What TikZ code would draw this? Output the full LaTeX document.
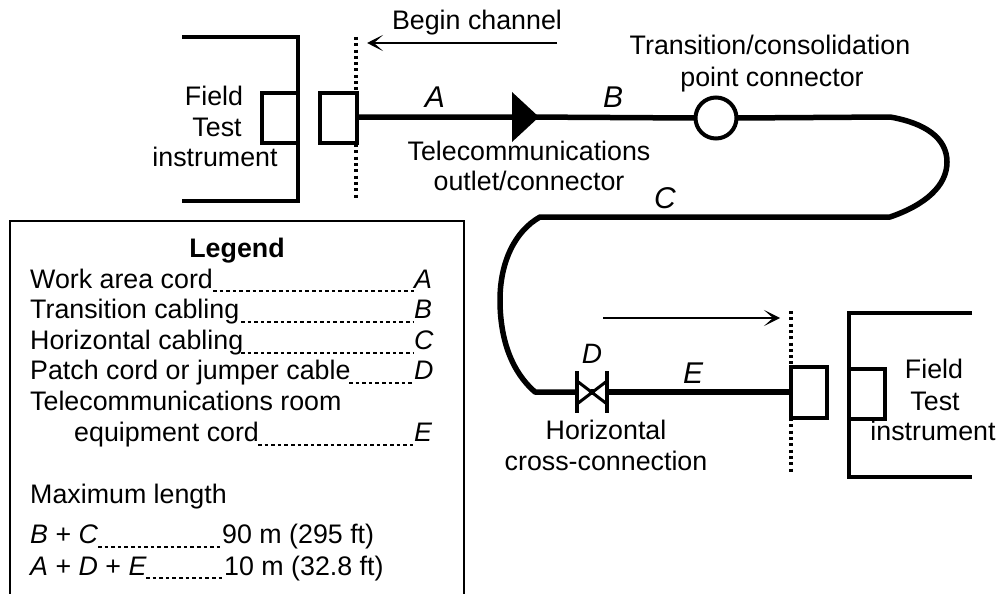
\documentclass[tikz,border=0pt]{standalone}
\usepackage{fontspec}
\usetikzlibrary{arrows.meta}
\setmainfont{Liberation Sans}
\begin{document}
\begin{tikzpicture}[x=1pt,y=-1pt,
  txt/.style={inner sep=0pt,anchor=base,font=\fontsize{26.8}{30}\selectfont},
  ltxt/.style={inner sep=0pt,anchor=base west,font=\fontsize{26.8}{30}\selectfont},
  litalic/.style={ltxt,font=\fontsize{26.8}{30}\selectfont\itshape},
  letter/.style={inner sep=0pt,anchor=base,font=\fontsize{30}{32}\selectfont\itshape},
  cable/.style={line width=5.5pt,line join=round},
  wall/.style={line width=4pt,line join=miter},
  plug/.style={draw,line width=4pt,fill=white,rectangle,inner sep=0pt,outer sep=0pt},
  boundary/.style={line width=3.2pt,dash pattern=on 3pt off 3.3pt},
  note/.style={line width=2pt,-{Stealth[length=16pt,width=16pt,inset=9pt]}},
  leader/.style={line width=1.6pt,dash pattern=on 3.6pt off 3pt},
  frame/.style={line width=1.6pt}]
\useasboundingbox (0,0) rectangle (999,594);
\fill[white] (0,0) rectangle (999,594);
% left instrument
\draw[wall] (182,37) -- (298,37) -- (298,201) -- (182,201);
\node[plug,minimum width=36pt,minimum height=50pt] (portL) at (280,118) {};
\draw[boundary] (356,37) -- (356,198);
\node[plug,minimum width=37pt,minimum height=50pt] (plugL) at (338.5,118) {};
% right instrument
\draw[wall] (972,313) -- (849,313) -- (849,477) -- (972,477);
\node[plug,minimum width=36pt,minimum height=50pt] (portR) at (867,394) {};
\draw[boundary] (791,311) -- (791,473);
\node[plug,minimum width=36pt,minimum height=51pt] (plugR) at (809,392.5) {};
% cable
\coordinate (outlet) at (525,117);
\coordinate (xc) at (591,392);
\node[circle,draw,line width=4pt,fill=white,minimum size=41pt,inner sep=0pt,outer sep=0pt] (tp) at (716,118) {};
\draw[cable] (plugL.east |- 0,117) -- (outlet) -- (tp.west);
\draw[cable] (tp.east) -- (890,117) .. controls (925,123) and (947,138) .. (947,162)
  .. controls (947,186) and (925,205) .. (890,217) -- (540,217)
  .. controls (515,231) and (500,262) .. (500,300)
  .. controls (500,340) and (512,372) .. (535,392) -- (xc);
\draw[cable] (xc) -- (plugR.west |- 0,392);
% outlet triangle
\fill (512,92) -- (539,117) -- (512,142) -- cycle;
% cross-connection
\draw[line width=3pt,fill=white] (577,381) -- (607,404) -- (607,381) -- (577,404) -- cycle;
\draw[line width=4pt] (577,371) -- (577,413);
\draw[line width=4pt] (607,371) -- (607,413);
% arrows
\coordinate (beginStart) at (557,43);
\coordinate (beginEnd) at (367,43);
\coordinate (endStart) at (603,318);
\coordinate (endEnd) at (780,318);
\draw[note] (beginStart) -- (beginEnd);
\draw[note] (endStart) -- (endEnd);
% labels
\node[txt] (t1) at (477,30) {Begin channel};
\node[txt] (t2) at (214,105) {Field};
\node[txt] (t3) at (217,136) {Test};
\node[txt] (t4) at (215,166) {instrument};
\node[txt] (t5) at (529,160) {Telecommunications};
\node[txt] (t6) at (529,190) {outlet/connector};
\node[txt] (t7) at (770,55) {Transition/consolidation};
\node[txt] (t8) at (772,87) {point connector};
\node[txt] (t9) at (934,378) {Field};
\node[txt] (t10) at (935,410) {Test};
\node[txt] (t11) at (933,440) {instrument};
\node[txt] (t12) at (606,439) {Horizontal};
\node[txt] (t13) at (606,470) {cross-connection};
\node[letter] (la) at (435,107) {A};
\node[letter] (lb) at (613,107) {B};
\node[letter] (lc) at (665,208) {C};
\node[letter,font=\fontsize{28}{30}\selectfont\itshape] (ld) at (592,363) {D};
\node[letter] (le) at (693,383) {E};
% legend
\draw[frame] (10,594) -- (10,221) -- (464,221) -- (464,594);
\node[txt,font=\fontsize{26.8}{30}\selectfont\bfseries] (lg) at (237,257) {Legend};
\node[ltxt] (w1) at (30,288) {Work area cord};
\node[ltxt] (w2) at (30,318) {Transition cabling};
\node[ltxt] (w3) at (30,349) {Horizontal cabling};
\node[ltxt] (w4) at (30,379) {Patch cord or jumper cable};
\node[ltxt] (w5) at (30,410) {Telecommunications room};
\node[ltxt] (w6) at (74,441) {equipment cord};
\node[ltxt] (w7) at (30,503) {Maximum length};
\node[litalic] (r1) at (414,288) {A};
\node[litalic] (r2) at (414,318) {B};
\node[litalic] (r3) at (414,349) {C};
\node[litalic] (r4) at (414,379) {D};
\node[litalic] (r5) at (414,441) {E};
\node[ltxt] (m1) at (30,543) {\textit{B} + \textit{C}};
\node[ltxt] (m2) at (30,575) {\textit{A} + \textit{D} + \textit{E}};
\node[ltxt] (v1) at (222,543) {90 m (295 ft)};
\node[ltxt] (v2) at (224,575) {10 m (32.8 ft)};
\draw[leader] (213,291) -- (414,291);
\draw[leader] (241,322) -- (414,322);
\draw[leader] (241,353) -- (414,353);
\draw[leader] (349,383) -- (414,383);
\draw[leader] (258,445) -- (414,445);
\draw[leader] (98,547) -- (222,547);
\draw[leader] (146,578) -- (222,578);
\end{tikzpicture}
\end{document}
